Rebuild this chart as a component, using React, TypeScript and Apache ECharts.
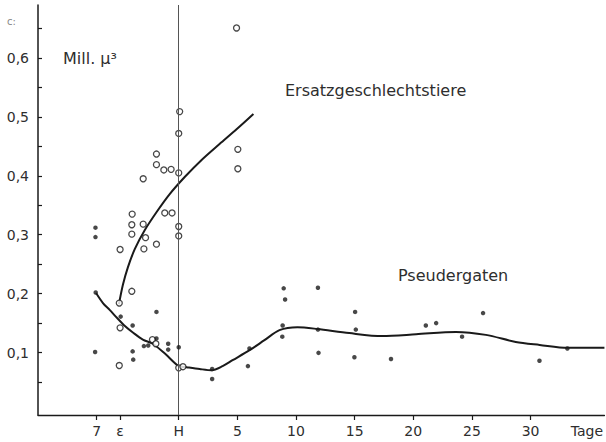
import React, { useEffect, useRef } from "react";
import * as echarts from "echarts";

// x: days relative to H (negative = before), y: Mill. μ³
const xTickDays = [-7, -5, 0, 5, 10, 15, 20, 25, 30];
const xLabelDays = [-7, -5, 0, 5, 10, 15, 20, 25, 30, 34.8];
const xLabelTexts = ["7", "ε", "H", "5", "10", "15", "20", "25", "30", "Tage"];
const yTickValues = [0.05, 0.1, 0.15, 0.2, 0.25, 0.3, 0.35, 0.4, 0.45, 0.5, 0.55, 0.6, 0.65];
const yLabelValues = [0.1, 0.2, 0.3, 0.4, 0.5, 0.6];

// open circles: Ersatzgeschlechtstiere
const ersatzPoints: number[][] = [
  [0.08, 0.509], [0, 0.472], [-1.9, 0.437], [-1.9, 0.419], [-1.27, 0.41], [-0.65, 0.411],
  [0, 0.405], [-3.03, 0.395], [5.04, 0.445], [5.04, 0.412], [4.93, 0.651], [-3.97, 0.335],
  [-1.19, 0.337], [-0.57, 0.337], [-4, 0.317], [-3.03, 0.318], [-4, 0.301], [-2.83, 0.295],
  [0, 0.314], [0, 0.298], [-5, 0.275], [-2.97, 0.276], [-1.9, 0.284], [-4, 0.204],
  [-5.07, 0.184], [-5, 0.142], [-2.24, 0.122], [-1.95, 0.115], [-5.07, 0.078], [0, 0.074],
  [0.36, 0.076],
];

// filled dots: Pseudergaten
const pseudPoints: number[][] = [
  [-7.08, 0.202], [-7.13, 0.101], [-7.1, 0.312], [-7.1, 0.296], [-4.95, 0.161], [-3.93, 0.146],
  [-3.93, 0.102], [-3.88, 0.088], [-1.9, 0.169], [-2.97, 0.111], [-2.6, 0.112], [-1.9, 0.124],
  [-0.9, 0.115], [-0.9, 0.105], [0, 0.109], [2.85, 0.072], [2.85, 0.055], [5.9, 0.077],
  [6.03, 0.107], [8.95, 0.209], [9.07, 0.19], [11.87, 0.21], [8.86, 0.146], [8.83, 0.127],
  [11.87, 0.139], [11.92, 0.0995], [15.04, 0.169], [15.1, 0.139], [14.98, 0.092], [18.1, 0.089],
  [21.07, 0.146], [21.95, 0.15], [24.16, 0.127], [25.95, 0.167], [30.76, 0.086], [33.14, 0.107],
];

// fitted curves
const ersatzCurve: number[][] = [
  [-5.1, 0.182], [-4.76, 0.215], [-4.33, 0.245], [-3.74, 0.276], [-2.89, 0.308],
  [-1.87, 0.339], [-0.77, 0.369], [0.51, 0.398], [1.95, 0.427], [3.48, 0.454],
  [4.93, 0.479], [6.37, 0.505],
];
const pseudCurve: number[][] = [
  [-7.05, 0.201], [-6.46, 0.184], [-5.87, 0.172], [-5.27, 0.159], [-4.59, 0.145],
  [-3.91, 0.134], [-3.06, 0.122], [-2.21, 0.115], [-1.11, 0.097], [0, 0.077],
  [0.68, 0.075], [1.79, 0.072], [2.81, 0.07], [3.74, 0.077], [4.59, 0.087],
  [6.04, 0.104], [7.31, 0.121], [8.59, 0.138], [10.12, 0.143], [11.82, 0.14],
  [14.54, 0.133], [17.35, 0.128], [20.24, 0.131], [23.64, 0.135], [26.19, 0.13],
  [28.74, 0.118], [30.78, 0.113], [33.16, 0.108], [36.3, 0.108],
];

const FONT = "DejaVu Sans";
const INK = "#1a1a1a";
const TEXT = "#2e2e2e";

export default function App() {
  const ref = useRef<HTMLDivElement>(null);
  useEffect(() => {
    if (!ref.current) return;
    const chart = echarts.init(ref.current, undefined, { renderer: "svg" });
    chart.setOption({
      animation: false,
      backgroundColor: "#ffffff",
      grid: { left: 38, right: 0, top: 5, bottom: 27, containLabel: false },
      xAxis: {
        type: "value",
        min: -12,
        max: 36.3,
        splitLine: { show: false },
        axisLine: { onZero: false, lineStyle: { color: INK, width: 1.3 } },
        axisTick: {
          customValues: xTickDays,
          length: 5,
          inside: false,
          lineStyle: { color: INK, width: 1.2 },
        },
        axisLabel: {
          customValues: xLabelDays,
          margin: 9,
          fontFamily: FONT,
          fontSize: 14,
          color: TEXT,
          formatter: (v: number) => {
            const i = xLabelDays.findIndex((d) => Math.abs(d - v) < 1e-6);
            return i >= 0 ? xLabelTexts[i] : "";
          },
        },
      },
      yAxis: {
        type: "value",
        min: -0.006,
        max: 0.69,
        splitLine: { show: false },
        axisLine: { onZero: false, lineStyle: { color: INK, width: 1.5 } },
        axisTick: {
          customValues: yTickValues,
          inside: true,
          length: 4,
          lineStyle: { color: INK, width: 1.2 },
        },
        axisLabel: {
          customValues: yLabelValues,
          margin: 9,
          fontFamily: FONT,
          fontSize: 14,
          color: TEXT,
          formatter: (v: number) => v.toFixed(1).replace(".", ","),
        },
      },
      graphic: [
        { type: "text", left: 7, top: 16, style: { text: "c:", fontFamily: FONT, fontSize: 10, fill: "#888" } },
        { type: "text", left: 63, top: 50, style: { text: "Mill. μ³", fontFamily: FONT, fontSize: 16, fill: TEXT } },
        { type: "text", left: 285, top: 82, style: { text: "Ersatzgeschlechtstiere", fontFamily: FONT, fontSize: 16, fill: TEXT } },
        { type: "text", left: 398, top: 267, style: { text: "Pseudergaten", fontFamily: FONT, fontSize: 16, fill: TEXT } },
      ],
      series: [
        {
          type: "line",
          data: [],
          silent: true,
          markLine: {
            silent: true,
            symbol: ["none", "none"],
            label: { show: false },
            lineStyle: { color: "#555", width: 1, type: "solid" },
            data: [[{ coord: [0, -0.006] }, { coord: [0, 0.69] }]],
          },
        },
        {
          name: "Ersatzgeschlechtstiere-Kurve",
          type: "line",
          data: ersatzCurve,
          smooth: 0.3,
          showSymbol: false,
          lineStyle: { color: INK, width: 2 },
          z: 3,
        },
        {
          name: "Pseudergaten-Kurve",
          type: "line",
          data: pseudCurve,
          smooth: 0.3,
          showSymbol: false,
          lineStyle: { color: INK, width: 2 },
          z: 3,
        },
        {
          name: "Ersatzgeschlechtstiere",
          type: "scatter",
          data: ersatzPoints,
          symbol: "circle",
          symbolSize: 6,
          itemStyle: { color: "#ffffff", borderColor: INK, borderWidth: 1.3 },
          z: 4,
        },
        {
          name: "Pseudergaten",
          type: "scatter",
          data: pseudPoints,
          symbol: "circle",
          symbolSize: 4.5,
          itemStyle: { color: INK },
          z: 5,
        },
      ],
    });
    return () => chart.dispose();
  }, []);
  return (
    <div
      ref={ref}
      style={{ position: "fixed", left: 0, top: 0, width: 606, height: 442, background: "#fff" }}
    />
  );
}
